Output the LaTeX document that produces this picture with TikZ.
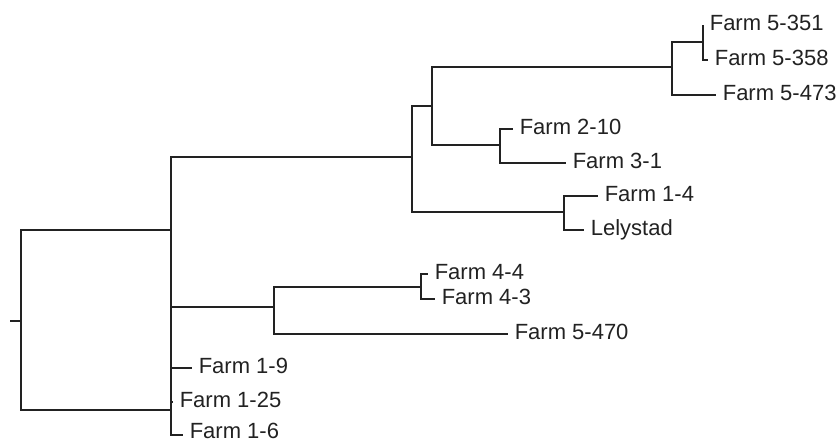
\documentclass[tikz,border=0pt]{standalone}
\usepackage{fontspec}
\setmainfont{Liberation Sans}
\usepackage{tikz}
\usetikzlibrary{positioning, calc}

\definecolor{ink}{RGB}{34,34,34}

\begin{document}
\begin{tikzpicture}[x=1pt, y=-1pt, line width=1.6pt, draw=ink,
    leaf/.style={anchor=west, inner xsep=6pt, inner ysep=0pt, text height=15pt, text depth=4pt,
        font=\fontsize{22}{26}\selectfont, text=ink}]
            \useasboundingbox (0,0) rectangle (838,441);
            \coordinate (stub) at (10,321);
            \coordinate (root) at (21,321);
            \coordinate (n1) at (171,230);
            \coordinate (n2) at (171,410);
            \coordinate (n3) at (412,157);
            \coordinate (n4) at (274,307);
            \coordinate (n5) at (432,106);
            \coordinate (n6) at (564,212);
            \coordinate (n7) at (672,67);
            \coordinate (n8) at (500,145);
            \coordinate (n9) at (703,42);
            \coordinate (n10) at (421,287);
            \node[leaf] (f5351) at (703,25) {Farm 5-351};
            \node[leaf] (f5358) at (708,60) {Farm 5-358};
            \node[leaf] (f5473) at (716,95) {Farm 5-473};
            \node[leaf] (f210) at (513,129) {Farm 2-10};
            \node[leaf] (f31) at (566,163) {Farm 3-1};
            \node[leaf] (f14) at (598,196) {Farm 1-4};
            \node[leaf] (lely) at (584,230) {Lelystad};
            \node[leaf] (f44) at (428,274) {Farm 4-4};
            \node[leaf] (f43) at (435,299) {Farm 4-3};
            \node[leaf] (f5470) at (508,334) {Farm 5-470};
            \node[leaf] (f19) at (192,368) {Farm 1-9};
            \node[leaf, inner xsep=6pt] (f125) at (173,402) {Farm 1-25};
            \node[leaf, text depth=9pt] (f16) at (183,435) {Farm 1-6};
            \draw (stub) -- (root);
            \draw (root) |- (n1);
            \draw (root) |- (n2);
            \draw (n1) |- (n3);
            \draw (n1) |- (n4);
            \draw (n4 -| n1) -- (f19 -| n2);
            \draw (n2) |- (f19.west);
            \draw (n2) |- (f125.west);
            \draw (n2) |- (f16.west);
            \draw (n3) |- (n5);
            \draw (n3) |- (n6);
            \draw (n5) |- (n7);
            \draw (n5) |- (n8);
            \draw (n7) |- (n9);
            \draw (n7) |- (f5473.west);
            \draw (n9) |- (f5351.west);
            \draw (n9) |- (f5358.west);
            \draw (n8) |- (f210.west);
            \draw (n8) |- (f31.west);
            \draw (n6) |- (f14.west);
            \draw (n6) |- (lely.west);
            \draw (n4) |- (n10);
            \draw (n4) |- (f5470.west);
            \draw (n10) |- (f44.west);
            \draw (n10) |- (f43.west);
        \end{tikzpicture}
\end{document}
